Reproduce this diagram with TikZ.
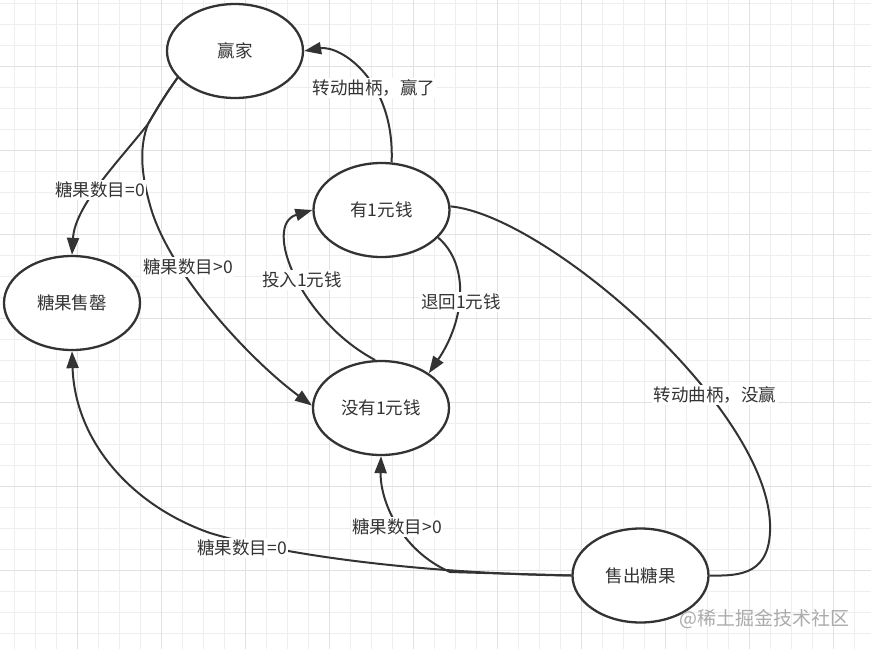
\documentclass[tikz,border=0pt]{standalone}
\usepackage{fontspec}
\setmainfont{Noto Sans CJK SC}
\usetikzlibrary{shapes.geometric,arrows.meta}
\definecolor{ink}{HTML}{333333}
\definecolor{gridminor}{HTML}{EEEEEE}
\definecolor{gridmajor}{HTML}{E1E1E1}
\definecolor{wmark}{HTML}{ABABAB}
\begin{document}
\begin{tikzpicture}[x=1pt,y=-1pt,
  state/.style={ellipse, draw=ink, line width=2.3pt, fill=white, minimum width=136pt, minimum height=94pt, inner sep=0pt, font=\fontsize{17.5}{20}\selectfont, text=ink},
  edge/.style={draw=ink, line width=2pt},
  arr/.style={edge, -{Triangle[length=17pt,width=12pt]}},
  lbl/.style={fill=white, inner sep=1.5pt, font=\fontsize{17.5}{20}\selectfont, text=ink}]
\useasboundingbox (0,0) rectangle (871,649);
\fill[white] (0,0) rectangle (871,649);
% grid
\foreach \x in {14,35,...,866} \draw[gridminor, line width=1pt] (\x,0) -- (\x,649);
\foreach \y in {3,24,...,645} \draw[gridminor, line width=1pt] (0,\y) -- (871,\y);
\foreach \x in {77,161,...,833} \draw[gridmajor, line width=1pt] (\x,0) -- (\x,649);
\foreach \y in {66,150,...,570} \draw[gridmajor, line width=1pt] (0,\y) -- (871,\y);
% states
\node[state] (win) at (235,51) {赢家};
\node[state] (yes) at (381.5,210) {有1元钱};
\node[state] (soldout) at (72,303) {糖果售罄};
\node[state] (noone) at (381,408) {没有1元钱};
\node[state] (sold) at (640.5,575.5) {售出糖果};
\coordinate (br) at (148,124);
\coordinate (j) at (450,572);
% connectors
\draw[arr] (win.205) .. controls (165,95) and (155,112) .. (br) .. controls (120,160) and (75,205) .. (soldout.north);
\draw[arr] (win.205) .. controls (165,95) and (155,112) .. (br) .. controls (140,145) and (140,170) .. (150,205) .. controls (168,272) and (250,360) .. (noone.178);
\draw[arr] (yes.78) .. controls (395,80) and (340,45) .. (win.east);
\draw[arr] (noone.97) .. controls (300,320) and (262,225) .. (yes.west);
\draw[arr] (yes.-26) .. controls (470,265) and (465,320) .. (noone.36);
\draw[edge] (yes.3) .. controls (545,215) and (765,405) .. (770,523) .. controls (772,575) and (740,576) .. (sold.east);
\draw[arr] (sold.west) -- (j) .. controls (400,550) and (380,500) .. (noone.south);
\draw[arr] (sold.west) .. controls (450,574) and (300,560) .. (210,533) .. controls (130,505) and (75,440) .. (soldout.south);
% labels
\node[lbl] (l1) at (100,190) {糖果数目=0};
\node[lbl] (l2) at (188,267) {糖果数目>0};
\node[lbl] (l3) at (374,88) {转动曲柄，赢了};
\node[lbl] (l4) at (302,280) {投入1元钱};
\node[lbl] (l5) at (461,302) {退回1元钱};
\node[lbl] (l6) at (715,395) {转动曲柄，没赢};
\node[lbl] (l7) at (397,527) {糖果数目>0};
\node[lbl] (l8) at (242,548) {糖果数目=0};
\node[anchor=east, text=wmark, inner sep=0pt, font=\fontsize{19}{22}\selectfont] (wm) at (850,619) {@稀土掘金技术社区};
\end{tikzpicture}
\end{document}
